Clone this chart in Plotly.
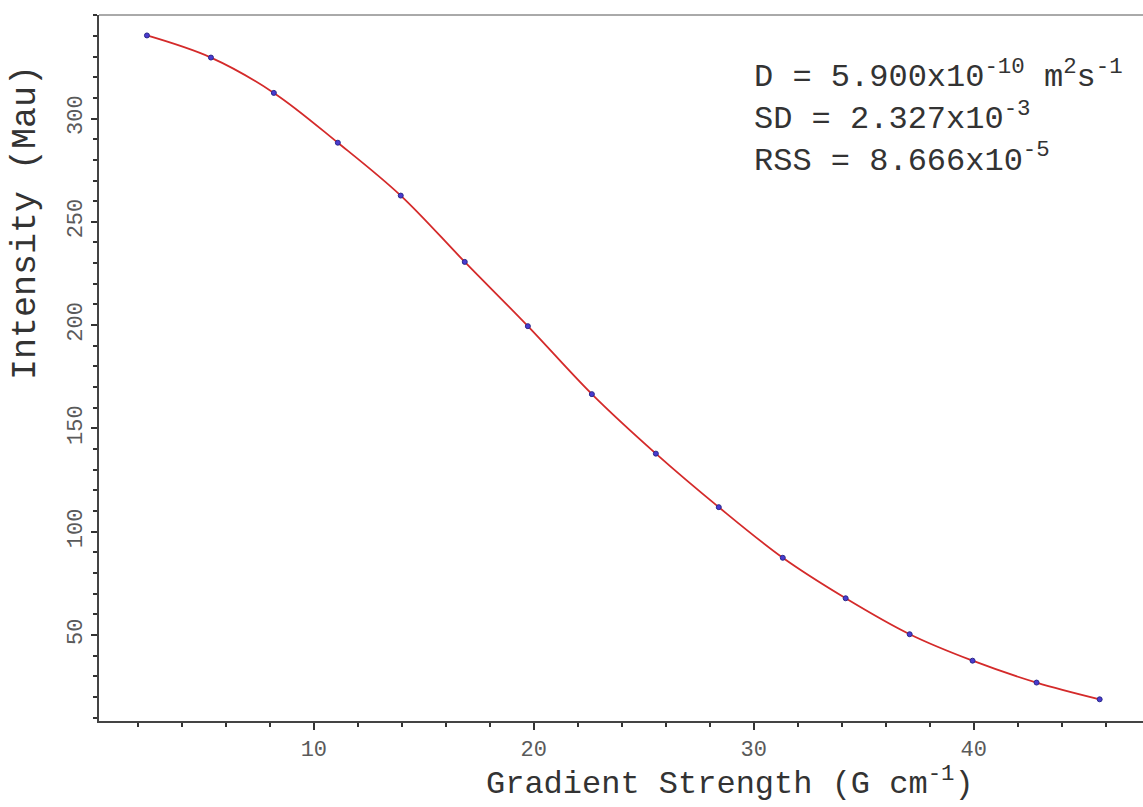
import plotly.graph_objects as go

# ---- data ----
gradient = [2.41, 5.32, 8.18, 11.09, 13.95, 16.86, 19.73, 22.64,
            25.55, 28.41, 31.32, 34.18, 37.09, 39.95, 42.86, 45.73]
intensity = [340.2, 329.5, 312.4, 288.3, 262.7, 230.6, 199.5, 166.6,
             137.8, 111.9, 87.4, 67.8, 50.4, 37.6, 27.0, 18.9]
x_ticks = [10, 20, 30, 40]
y_ticks = [50, 100, 150, 200, 250, 300]
x_range = [0.23, 47.7]
y_range = [8.4, 350.1]

stats_text = ("D = 5.900x10<sup>-10</sup> m<sup>2</sup>s<sup>-1</sup><br>"
              "SD = 2.327x10<sup>-3</sup><br>"
              "RSS = 8.666x10<sup>-5</sup>")
x_title = "Gradient Strength (G cm<sup>-1</sup>)"
y_title = "Intensity (Mau)"

# ---- layout constants ----
W, H = 1143, 807
L, R, T, B = 99, 0, 15, 86
PW, PH = W - L - R, H - T - B
MONO = "Courier New, Liberation Mono, monospace"


def px_x(p):
    return (p - L) / PW


def px_y(p):
    return 1 - (p - T) / PH


fig = go.Figure()
fig.add_trace(go.Scatter(
    x=gradient, y=intensity, mode="lines",
    line=dict(color="#d42a2a", width=1.8, shape="spline", smoothing=1.0),
    hoverinfo="skip", showlegend=False))
fig.add_trace(go.Scatter(
    x=gradient, y=intensity, mode="markers",
    marker=dict(size=5, color="#4a3ad0", line=dict(color="#2a2a8a", width=1)),
    showlegend=False))

axis_common = dict(
    showline=True, linecolor="#444444", linewidth=2,
    ticks="outside", tickwidth=2, tickcolor="#333333",
    showgrid=False, zeroline=False,
    tickfont=dict(family=MONO, size=22, color="#5a5a5a"),
)

fig.update_xaxes(
    range=x_range, tickmode="array", tickvals=x_ticks, ticklen=7,
    minor=dict(ticks="outside", ticklen=4, tickwidth=2, tickcolor="#333333",
               tickmode="linear", tick0=0, dtick=2, showgrid=False),
    **axis_common)
fig.update_yaxes(
    range=y_range, tickmode="array", tickvals=y_ticks, ticklen=6,
    tickangle=-90,
    minor=dict(ticks="outside", ticklen=4, tickwidth=2, tickcolor="#333333",
               tickmode="linear", tick0=0, dtick=10, showgrid=False),
    **axis_common)

fig.add_shape(type="line", xref="paper", yref="paper", x0=0, x1=1, y0=1, y1=1,
              line=dict(color="#555555", width=1))

fig.add_annotation(text=stats_text, xref="paper", yref="paper",
                   x=px_x(752), y=px_y(52), xanchor="left", yanchor="top",
                   align="left", showarrow=False,
                   font=dict(family=MONO, size=32, color="#333333"))
fig.add_annotation(text=x_title, xref="paper", yref="paper",
                   x=px_x(730), y=px_y(782), xanchor="center", yanchor="middle",
                   showarrow=False,
                   font=dict(family=MONO, size=32, color="#333333"))
fig.add_annotation(text=y_title, xref="paper", yref="paper", textangle=-90,
                   x=px_x(26), y=px_y(223), xanchor="center", yanchor="middle",
                   showarrow=False,
                   font=dict(family=MONO, size=35, color="#333333"))

fig.update_layout(
    width=W, height=H,
    margin=dict(l=L, r=R, t=T, b=B, pad=0),
    paper_bgcolor="white", plot_bgcolor="white",
    showlegend=False,
)

fig.write_html("out.html")
